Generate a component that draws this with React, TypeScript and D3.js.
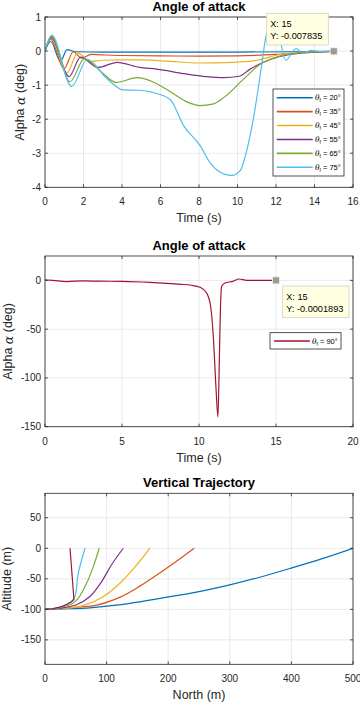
import React from "react";
import * as d3 from "d3";

const FONT = "'Liberation Sans', Arial, Helvetica, sans-serif";
const AXIS = "#262626";
const GRID = "#e3e3e3";
const COLORS = ["#0072BD", "#D95319", "#EDB120", "#7E2F8E", "#77AC30", "#4DBEEE", "#A2142F"];

// ---- panel 1 : angle of attack, theta_f 20..75
const thetaTop = [20, 35, 45, 55, 65, 75];
const t20 = [0, 0.3, 0.8, 1.15, 1.6, 3, 6, 10, 13, 15];
const a20 = [0, 0.28, -0.3, 0.04, -0.02, -0.03, -0.03, -0.03, -0.02, -0.008];
const t35 = [0, 0.3, 0.99, 1.47, 1.9, 2.4, 2.9, 4, 6, 8, 10, 12, 13.5, 15];
const a35 = [0, 0.35, -0.52, -0.02, -0.21, -0.1, -0.11, -0.13, -0.14, -0.15, -0.14, -0.1, -0.05, -0.008];
const t45 = [0, 0.32, 1.13, 1.7, 2.35, 3.0, 4, 5, 6.5, 8, 9.8, 11, 12.2, 13.5, 15];
const a45 = [0, 0.38, -0.64, -0.06, -0.31, -0.27, -0.26, -0.26, -0.3, -0.35, -0.33, -0.27, -0.1, -0.03, -0.008];
const t55 = [0, 0.32, 1.25, 1.85, 2.75, 3.75, 4.9, 5.8, 7.2, 8.4, 9.3, 10.1, 10.65, 11.35, 12.2, 13.3, 15];
const a55 = [0, 0.4, -0.75, -0.18, -0.48, -0.33, -0.48, -0.53, -0.66, -0.75, -0.78, -0.74, -0.53, -0.33, -0.16, -0.06, -0.008];
const t65 = [0, 0.33, 1.3, 2.05, 2.9, 3.7, 4.8, 5.5, 6.5, 7.4, 8.05, 8.7, 9.3, 10.3, 11.2, 12.2, 13.3, 15];
const a65 = [0, 0.43, -0.9, -0.22, -0.6, -0.92, -0.78, -0.88, -1.19, -1.5, -1.6, -1.56, -1.36, -0.83, -0.38, -0.15, -0.05, -0.008];
const t75 = [0, 0.35, 1.38, 2.2, 3.2, 4.05, 4.9, 5.5, 6.5, 7.2, 8.05, 8.6, 8.95, 9.7, 10.15, 10.5, 10.85, 11.2, 11.45, 11.85, 12.15, 12.5, 13.05, 13.4, 13.8, 14.3, 15];
const a75 = [0, 0.47, -1.04, -0.24, -0.8, -1.14, -1.15, -1.2, -1.42, -2.19, -2.77, -3.3, -3.5, -3.65, -3.5, -2.87, -1.9, -0.63, 0.34, 0.95, 0.48, -0.27, 0.07, -0.07, 0.02, -0.01, -0.008];
const topTimes = [t20, t35, t45, t55, t65, t75];
const topAlphas = [a20, a35, a45, a55, a65, a75];

// ---- panel 2 : angle of attack, theta_f 90
const t90 = [0, 0.5, 1.4, 2.5, 3.5, 5, 6.8, 7.9, 8.8, 9.5, 10.06, 10.5, 10.76, 10.93, 11.1, 11.23, 11.32, 11.39, 11.47, 11.69, 12.2, 12.6, 13.1, 14, 15];
const a90 = [0.5, 0, -1.2, -0.5, -0.8, -1, -2, -3, -4, -5, -7, -13, -27, -58, -109, -140, -82, -30, -6, -2.7, -1, 1.4, 0, 0.1, -0.0002];

// ---- panel 3 : vertical trajectory (north, altitude)
const n20 = [0, 40, 73, 127, 187, 250, 300, 350, 398, 450, 500];
const h20 = [-100, -99, -97.5, -92, -82, -71, -60, -47, -33, -17, 0];
const n35 = [0, 35, 84, 122, 154, 187, 214, 242];
const h35 = [-100, -97.5, -93, -80, -62, -40, -21, 0];
const n45 = [0, 30, 62, 95, 124.5, 149, 170];
const h45 = [-100, -98.5, -94, -79, -54.5, -27, 0];
const n55 = [0, 25, 51, 73, 92, 108, 127];
const h55 = [-100, -98, -92.6, -79, -54.5, -27, 0];
const n65 = [0, 25, 45, 54, 67.7, 78.4, 88];
const h65 = [-100, -97, -90, -82, -57, -30, 0];
const n75 = [0, 25, 42, 48.7, 54, 65];
const h75 = [-100, -96.5, -88, -79, -41, 0];
const n90 = [0, 12, 24, 35, 43, 47, 40.6];
const h90 = [-100, -99, -96.5, -92, -87.5, -84, 0];
const trajNorth = [n20, n35, n45, n55, n65, n75, n90];
const trajAlt = [h20, h35, h45, h55, h65, h75, h90];

const topTicksX = [0, 2, 4, 6, 8, 10, 12, 14, 16];
const topTicksY = [-4, -3, -2, -1, 0, 1];
const midTicksX = [0, 5, 10, 15, 20];
const midTicksY = [-150, -100, -50, 0];
const botTicksX = [0, 100, 200, 300, 400, 500];
const botTicksY = [-150, -100, -50, 0, 50];

const zip = (xs: number[], ys: number[]) => xs.map((x, i) => [x, ys[i]] as [number, number]);

function Frame(props: any) {
  const { id, box, xs, ys, xTicks, yTicks, title, xLabel, yLabel, yLabelX, children } = props;
  const [L, T, R, B] = box;
  const tl = 3;
  return (
    <g>
      <rect x={L} y={T} width={R - L} height={B - T} fill="#fff" />
      {xTicks.map((v: number) => (
        <line key={"gx" + v} x1={xs(v)} x2={xs(v)} y1={T} y2={B} stroke={GRID} strokeWidth={0.8} />
      ))}
      {yTicks.map((v: number) => (
        <line key={"gy" + v} x1={L} x2={R} y1={ys(v)} y2={ys(v)} stroke={GRID} strokeWidth={0.8} />
      ))}
      <clipPath id={id}>
        <rect x={L} y={T} width={R - L} height={B - T} />
      </clipPath>
      <g clipPath={`url(#${id})`}>{children}</g>
      <rect x={L} y={T} width={R - L} height={B - T} fill="none" stroke={AXIS} strokeWidth={0.8} />
      {xTicks.map((v: number) => (
        <g key={"tx" + v}>
          <line x1={xs(v)} x2={xs(v)} y1={B} y2={B - tl} stroke={AXIS} strokeWidth={0.8} />
          <line x1={xs(v)} x2={xs(v)} y1={T} y2={T + tl} stroke={AXIS} strokeWidth={0.8} />
          <text x={xs(v)} y={B + 18} textAnchor="middle" fontSize={10} fill={AXIS}>{v}</text>
        </g>
      ))}
      {yTicks.map((v: number) => (
        <g key={"ty" + v}>
          <line x1={L} x2={L + tl} y1={ys(v)} y2={ys(v)} stroke={AXIS} strokeWidth={0.8} />
          <line x1={R} x2={R - tl} y1={ys(v)} y2={ys(v)} stroke={AXIS} strokeWidth={0.8} />
          <text x={L - 4} y={ys(v) + 3.5} textAnchor="end" fontSize={10} fill={AXIS}>{v}</text>
        </g>
      ))}
      <text x={(L + R) / 2} y={T - 6} textAnchor="middle" fontSize={13} fontWeight="bold" fill="#000">{title}</text>
      <text x={(L + R) / 2} y={B + 35} textAnchor="middle" fontSize={12.5} fill={AXIS}>{xLabel}</text>
      <text transform={`translate(${yLabelX},${(T + B) / 2}) rotate(-90)`} textAnchor="middle" dominantBaseline="central" fontSize={12.5} fill={AXIS}>
        {yLabel}
      </text>
    </g>
  );
}

const alphaLabel = (
  <>
    Alpha <tspan fontStyle="italic" fontFamily="'DejaVu Serif', serif">α</tspan> (deg)
  </>
);

function ThetaText({ x, y, v }: { x: number; y: number; v: number }) {
  return (
    <text x={x} y={y + 2.5} fontSize={7.5} fill="#000">
      <tspan fontStyle="italic" fontFamily="'DejaVu Serif', serif">θ</tspan>
      <tspan fontSize={5} dy={2}>f</tspan>
      <tspan dy={-2}>{` = ${v}°`}</tspan>
    </text>
  );
}

function DataTip({ mx, my, bx, by, bw, bh, xText, yText }: any) {
  return (
    <g>
      <rect x={mx - 3.5} y={my - 3.5} width={7} height={7} fill="#999999" stroke="#f4f4d8" strokeWidth={0.8} />
      <rect x={bx} y={by} width={bw} height={bh} fill="#ffffe1" stroke="#cfcfc0" strokeWidth={0.8} />
      <text x={bx + 3.5} y={by + 13.6} fontSize={9.2} fill="#000">{xText}</text>
      <text x={bx + 3.5} y={by + 26} fontSize={9.2} fill="#000">{yText}</text>
    </g>
  );
}

export default function App() {
  // panel 1
  const b1 = [45, 17, 353, 187.3];
  const x1 = d3.scaleLinear().domain([0, 16]).range([b1[0], b1[2]]);
  const y1 = d3.scaleLinear().domain([-4, 1]).range([b1[3], b1[1]]);
  const line1 = d3.line<[number, number]>().x((d) => x1(d[0])).y((d) => y1(d[1])).curve(d3.curveMonotoneX);

  // panel 2
  const b2 = [45, 256, 353, 426.7];
  const x2 = d3.scaleLinear().domain([0, 20]).range([b2[0], b2[2]]);
  const y2 = d3.scaleLinear().domain([-150, 25]).range([b2[3], b2[1]]);
  const line2 = d3.line<[number, number]>().x((d) => x2(d[0])).y((d) => y2(d[1])).curve(d3.curveMonotoneX);

  // panel 3
  const b3 = [45, 493.3, 353, 664.3];
  const x3 = d3.scaleLinear().domain([0, 500]).range([b3[0], b3[2]]);
  const y3 = d3.scaleLinear().domain([-190, 90]).range([b3[3], b3[1]]);
  const line3 = d3.line<[number, number]>().x((d) => x3(d[0])).y((d) => y3(d[1])).curve(d3.curveCatmullRom.alpha(0.5));
  const line3lin = d3.line<[number, number]>().x((d) => x3(d[0])).y((d) => y3(d[1]));

  const legTop = { x: 273, y: 89, w: 71, h: 87 };
  const rowH = 13.92;

  return (
    <div style={{ position: "absolute", left: 0, top: 0 }}>
      <svg width={360} height={703} fontFamily={FONT} style={{ display: "block", background: "#fff" }}>
        <rect width={360} height={703} fill="#fff" />

        <Frame id="c1" box={b1} xs={x1} ys={y1} xTicks={topTicksX} yTicks={topTicksY}
          title="Angle of attack" xLabel="Time (s)" yLabel={alphaLabel} yLabelX={20}>
          {topTimes.map((ts, i) => (
            <path key={i} d={line1(zip(ts, topAlphas[i])) || ""} fill="none" stroke={COLORS[i]} strokeWidth={1.2} />
          ))}
        </Frame>
        <g>
          <rect x={legTop.x} y={legTop.y} width={legTop.w} height={legTop.h} fill="#fff" stroke={AXIS} strokeWidth={0.8} />
          {thetaTop.map((v, i) => {
            const cy = legTop.y + 8.7 + i * rowH;
            return (
              <g key={v}>
                <line x1={276.7} x2={312.7} y1={cy} y2={cy} stroke={COLORS[i]} strokeWidth={1.6} />
                <ThetaText x={315} y={cy} v={v} />
              </g>
            );
          })}
        </g>
        <DataTip mx={x1(15)} my={y1(-0.007835)} bx={266.7} by={13.3} bw={61.6} bh={31.7} xText="X: 15" yText="Y: -0.007835" />

        <Frame id="c2" box={b2} xs={x2} ys={y2} xTicks={midTicksX} yTicks={midTicksY}
          title="Angle of attack" xLabel="Time (s)" yLabel={alphaLabel} yLabelX={8}>
          <path d={line2(zip(t90, a90)) || ""} fill="none" stroke={COLORS[6]} strokeWidth={1.2} />
        </Frame>
        <g>
          <rect x={270} y={332.7} width={71} height={16.3} fill="#fff" stroke={AXIS} strokeWidth={0.8} />
          <line x1={274} x2={310} y1={341} y2={341} stroke={COLORS[6]} strokeWidth={1.6} />
          <ThetaText x={312} y={341} v={90} />
        </g>
        <DataTip mx={x2(15)} my={y2(-0.0001893)} bx={282.7} by={286} bw={66.3} bh={31.7} xText="X: 15" yText="Y: -0.0001893" />

        <Frame id="c3" box={b3} xs={x3} ys={y3} xTicks={botTicksX} yTicks={botTicksY}
          title="Vertical Trajectory" xLabel="North (m)" yLabel="Altitude (m)" yLabelX={7}>
          {trajNorth.map((ns, i) => (
            <path key={i} d={(i === 6 ? line3lin : line3)(zip(ns, trajAlt[i])) || ""} fill="none" stroke={COLORS[i]} strokeWidth={1.2} />
          ))}
        </Frame>
      </svg>
    </div>
  );
}
